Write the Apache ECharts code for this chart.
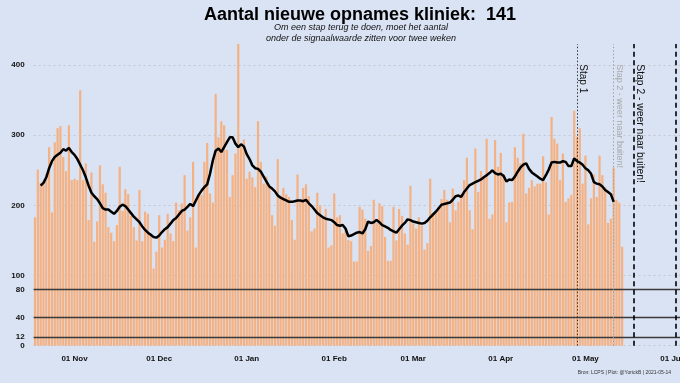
<!DOCTYPE html>
<html><head><meta charset="utf-8">
<script src="https://cdn.jsdelivr.net/npm/echarts@6/dist/echarts.min.js"></script>
<style>html,body{margin:0;padding:0;background:#dae3f3}#c{width:680px;height:383px}</style>
</head><body><div id="c"></div>
<script>
// ---- data ----
const startDate = '2020-10-18';
const axisDays = 229; // axis runs 2020-10-18 .. 2021-06-03
const admissions = [
183,251,232,230,245,283,190,290,310,313,269,249,314,236,238,236,364,236,260,179,247,148,177,257,230,218,169,161,149,172,255,192,223,216,185,169,150,222,149,191,188,160,110,134,
186,140,151,188,160,149,204,193,203,243,164,183,262,140,217,215,262,289,217,204,359,297,320,314,279,212,243,274,430,283,294,238,248,240,226,320,262,231,241,226,186,171,
266,214,225,216,212,179,151,244,205,225,230,213,163,167,218,200,183,195,140,143,217,183,186,160,164,151,149,120,120,198,194,181,135,142,208,175,203,199,155,121,121,
198,150,195,185,160,144,228,174,167,183,171,137,146,238,188,190,198,209,222,208,176,224,193,205,217,236,268,193,166,281,219,249,240,295,181,187,293,255,275,245,176,204,
205,283,268,260,302,217,225,236,227,231,231,270,233,187,326,295,288,236,274,205,210,215,335,298,310,231,271,173,210,244,212,271,243,226,175,181,254,208,204,141
];
const rollingAvg = [null,null,
228,232,240,253,263,269,272,275,280,278,282,276,272,266,258,250,240,228,218,213,209,203,196,194,194,191,188,192,198,201,199,194,189,184,180,176,170,165,161,158,155,
154,157,162,166,169,174,179,182,187,192,194,198,202,199,207,215,221,226,230,245,264,278,281,276,283,290,297,297,288,283,287,284,273,266,257,253,252,248,241,234,227,224,220,
214,211,209,207,205,205,206,207,207,206,208,203,199,194,189,186,183,181,180,179,176,172,171,172,167,156,157,159,161,162,160,166,177,175,176,179,176,172,170,168,165,163,
161,166,171,175,180,179,177,176,175,174,175,178,183,187,191,196,201,202,203,204,208,213,214,212,219,224,229,231,233,235,237,240,243,246,250,246,244,245,242,234,237,236,
241,248,254,258,260,252,247,244,241,238,236,243,251,261,262,261,261,263,262,256,256,267,263,261,258,253,250,245,233,231,230,227,222,219,216,205,
null,null,null];
const tickDates = ['2020-11-01','2020-12-01','2021-01-01','2021-02-01','2021-03-01','2021-04-01','2021-05-01','2021-06-01'];
const tickLabels = ['01 Nov','01 Dec','01 Jan','01 Feb','01 Mar','01 Apr','01 May','01 Jun'];
const yTickLabels = [0,12,40,80,100,200,300,400];
const thresholds = [80,40,12];
const stepDates = ['2021-04-28','2021-05-11','2021-05-18','2021-06-02'];
const stepLabels = ['Stap 1','Stap 2 - weer naar buiten!','Stap 2 - weer naar buiten!',''];
const titleText = 'Aantal nieuwe opnames kliniek:  141';
const subText = 'Om een stap terug te doen, moet het aantal\nonder de signaalwaarde zitten voor twee weken';
const footerText = 'Bron: LCPS | Plot: @YorickB | 2021-05-14';

// ---- build ----
const FONT = '"Liberation Sans", Arial, Helvetica, sans-serif';
const cats = [];
const d0 = Date.UTC(2020, 9, 18);
for (let k = 0; k < axisDays; k++) cats.push(new Date(d0 + k * 86400000).toISOString().slice(0, 10));

const stepStyles = [
  {type: [1.5, 2], color: '#333', width: 1},
  {type: [1.5, 2], color: '#a0a0a0', width: 1},
  {type: [5, 3.5], color: '#000', width: 1.6},
  {type: [5, 3.5], color: '#000', width: 1.6}
];
const stepText = [
  {fontSize: 10, color: '#111'},
  {fontSize: 9, color: '#a8a8a8'},
  {fontSize: 10.3, color: '#111'},
  {fontSize: 10, color: '#111'}
];

const chart = echarts.init(document.getElementById('c'), null, {renderer: 'canvas'});
chart.setOption({
  animation: false,
  backgroundColor: '#dae3f3',
  title: [
    {text: titleText, left: 355, top: 1, textAlign: 'center',
     textStyle: {fontFamily: FONT, fontSize: 18, fontWeight: 'bold', color: '#000'}},
    {text: subText, left: 356, top: 17, textAlign: 'center',
     textStyle: {fontFamily: FONT, fontSize: 9, fontStyle: 'italic', fontWeight: 'normal', color: '#111', lineHeight: 11}},
    {text: footerText, right: 4, bottom: 3,
     textStyle: {fontFamily: FONT, fontSize: 5, fontWeight: 'normal', color: '#333'}}
  ],
  grid: {left: 33.6, right: 0, top: 44, bottom: 37.3, containLabel: false, outerBoundsMode: 'none'},
  xAxis: {
    type: 'category', data: cats, boundaryGap: true,
    axisLine: {show: false}, axisTick: {show: false}, splitLine: {show: false},
    axisLabel: {
      interval: (idx, val) => tickDates.indexOf(val) >= 0,
      formatter: val => tickLabels[tickDates.indexOf(val)],
      fontFamily: FONT, fontSize: 8, fontWeight: 'bold', color: '#111', margin: 9
    }
  },
  yAxis: {
    type: 'value', min: 0, max: 430, interval: 100,
    axisLine: {show: false}, axisTick: {show: false},
    splitLine: {show: true, showMaxLine: false, lineStyle: {color: '#c3c7ce', type: [2, 3], width: 1}},
    axisLabel: {customValues: yTickLabels, fontFamily: FONT, fontSize: 8, fontWeight: 'bold', color: '#111', margin: 9}
  },
  series: [
    {
      type: 'bar', data: admissions, barCategoryGap: '22%',
      itemStyle: {color: '#f4b183'}, silent: true, z: 2,
      markLine: {
        silent: true, symbol: 'none', label: {show: false}, z: 4,
        data: thresholds.map(v => ({yAxis: v, lineStyle: {color: '#3a3a3a', width: 1.4, type: 'solid'}}))
          .concat(stepDates.map((d, i) => ({xAxis: d, lineStyle: stepStyles[i]})))
      }
    },
    {
      type: 'line', data: rollingAvg, showSymbol: false, connectNulls: false,
      lineStyle: {color: '#000', width: 2.5}, z: 6, silent: true
    }
  ]
});

// step labels, positioned through the chart's own axes
const y0 = chart.convertToPixel({yAxisIndex: 0}, 401);
const graphics = stepDates.map((d, i) => {
  const x = chart.convertToPixel({xAxisIndex: 0}, d);
  return {
    type: 'text', x: x + 6, y: y0, rotation: -Math.PI / 2, z: 20,
    style: {text: stepLabels[i], fontFamily: FONT, fontSize: stepText[i].fontSize,
            fill: stepText[i].color, align: 'left', verticalAlign: 'middle'}
  };
});
chart.setOption({graphic: graphics});
</script>
</body></html>
